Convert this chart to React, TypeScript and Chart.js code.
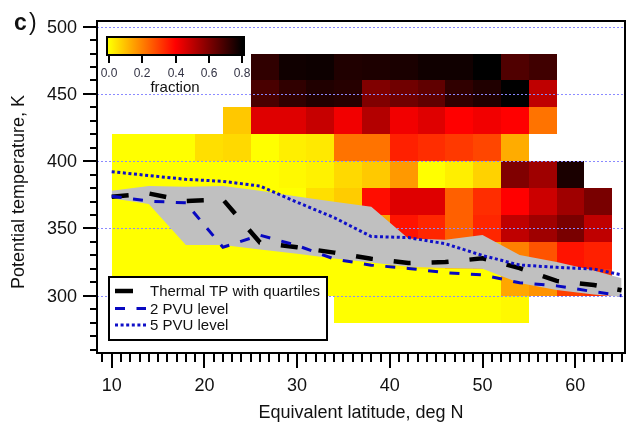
import React, { useEffect, useRef } from 'react';
import { Chart, registerables } from 'chart.js';

Chart.register(...registerables);

// ---- data ----
// heat map: columns of equivalent latitude (left edge, 3 deg wide), rows of potential temperature (bottom edge, 20 K tall)
const cellLatEdges = [10, 13, 16, 19, 22, 25, 28, 31, 34, 37, 40, 43, 46, 49, 52, 55, 58, 61];
const cellLatWidth = 3;
const cellThetaEdges = [280, 300, 320, 340, 360, 380, 400, 420, 440, 460];
const cellThetaHeight = 20;
const N = null;
const frac280 = [N, N, N, N, N, N, N, N, 0, 0, 0, 0, 0, 0, 0.01, N, N, N];
const frac300 = [0, 0, 0, 0, 0, 0, 0, 0, 0, 0, 0, 0, 0, 0, 0.14, 0.17, 0.3, 0.32];
const frac320 = [0, 0, 0, 0, 0, 0, 0, 0, 0, 0, 0.02, 0.03, 0.08, 0.12, 0.2, 0.27, 0.37, 0.35];
const frac340 = [0, 0, 0, 0, 0, 0, 0, 0, 0, 0.15, 0.37, 0.34, 0.25, 0.34, 0.5, 0.55, 0.61, 0.5];
const frac360 = [0, 0, 0, 0, 0, 0, 0, 0.05, 0.08, 0.38, 0.45, 0.45, 0.25, 0.33, 0.4, 0.48, 0.55, 0.61];
const frac380 = [0, 0, 0, 0, 0, 0, 0.01, 0.02, 0.06, 0.085, 0.16, 0, 0.025, 0.07, 0.6, 0.55, 0.76, N];
const frac400 = [0, 0, 0, 0.05, 0.06, 0, 0.025, 0.035, 0.22, 0.22, 0.35, 0.33, 0.31, 0.29, 0.13, N, N, N];
const frac420 = [N, N, N, N, 0.086, 0.45, 0.45, 0.49, 0.42, 0.52, 0.42, 0.45, 0.4, 0.42, 0.4, 0.22, N, N];
const frac440 = [N, N, N, N, N, 0.685, 0.725, 0.75, 0.74, 0.6, 0.625, 0.65, 0.725, 0.75, 0.8, 0.5, N, N];
const frac460 = [N, N, N, N, N, 0.725, 0.775, 0.78, 0.75, 0.755, 0.76, 0.775, 0.775, 0.8, 0.675, 0.7, N, N];
const fractionRows = [frac280, frac300, frac320, frac340, frac360, frac380, frac400, frac420, frac440, frac460];

// profiles vs equivalent latitude
const lat = [10, 14, 18, 22, 26, 30, 34, 38, 42, 46, 50, 54, 58, 62, 65];
const tpMedian = [373.5, 376, 370.4, 371.5, 339.5, 336, 332, 327.5, 324.3, 325, 327.8, 320.5, 311, 308, 304];
const tpUpper = [378.1, 381.6, 381, 381.6, 378, 373.8, 369.9, 366.2, 342.5, 341.5, 345.2, 330.3, 325.1, 318.7, 313];
const tpLower = [372.4, 368.2, 337.7, 337.7, 334.4, 331.1, 327.7, 324.6, 321.5, 320.6, 320, 309.4, 304.3, 300.8, 299.3];
const pvu2 = [374, 370.3, 369, 336, 345, 337.3, 327.3, 322.7, 320.3, 317.1, 315.5, 309.6, 307.3, 303, 300];
const pvu5 = [392.2, 389.3, 386.5, 385, 381.5, 369.5, 358, 344, 343.2, 338.6, 329.9, 322.8, 321.1, 319.8, 315.5];

const xMajorTicks = [10, 20, 30, 40, 50, 60];
const yMajorTicks = [300, 350, 400, 450, 500];
const colorbarTicks = [0, 0.2, 0.4, 0.6, 0.8];
const legendLabels = ['Thermal TP with quartiles', '2 PVU level', '5 PVU level'];

const FONT = "'Liberation Sans', Arial, sans-serif";

function fracColor(v: number): string {
  const t = Math.max(0, Math.min(0.8, v));
  let r: number, g: number;
  if (t <= 0.4) {
    r = 255;
    g = Math.round(255 * (1 - t / 0.4));
  } else {
    r = Math.round((255 * (0.8 - t)) / 0.4);
    g = 0;
  }
  return `rgb(${r},${g},0)`;
}

const pts = (ys: number[]) => lat.map((x, i) => ({ x, y: ys[i] }));

const heatPlugin = {
  id: 'heat',
  beforeDatasetsDraw(chart: any) {
    const { ctx, chartArea: ca, scales } = chart;
    const xs = scales.x;
    const ys = scales.y;
    ctx.save();
    ctx.beginPath();
    ctx.rect(ca.left, ca.top, ca.right - ca.left, ca.bottom - ca.top);
    ctx.clip();
    fractionRows.forEach((row, ri) => {
      const th = cellThetaEdges[ri];
      const y0 = Math.round(ys.getPixelForValue(th + cellThetaHeight));
      const y1 = Math.round(ys.getPixelForValue(th));
      row.forEach((v, ci) => {
        if (v === null) return;
        const la = cellLatEdges[ci];
        const x0 = Math.round(xs.getPixelForValue(la));
        const x1 = Math.round(xs.getPixelForValue(la + cellLatWidth));
        ctx.fillStyle = fracColor(v as number);
        ctx.fillRect(x0, y0, x1 - x0, y1 - y0);
      });
    });
    // dotted horizontal grid
    ctx.strokeStyle = '#8a8aff';
    ctx.lineWidth = 1;
    ctx.setLineDash([2, 2]);
    yMajorTicks.forEach((t) => {
      const y = Math.round(ys.getPixelForValue(t)) + 0.5;
      ctx.beginPath();
      ctx.moveTo(ca.left, y);
      ctx.lineTo(ca.right, y);
      ctx.stroke();
    });
    ctx.restore();
  },
};

const decorPlugin = {
  id: 'decor',
  afterDraw(chart: any) {
    const { ctx, chartArea: ca, scales } = chart;
    const xs = scales.x;
    const ys = scales.y;
    ctx.save();
    // frame
    ctx.strokeStyle = '#000';
    ctx.lineWidth = 2;
    ctx.setLineDash([]);
    ctx.strokeRect(ca.left, ca.top, ca.right - ca.left, ca.bottom - ca.top);

    // y ticks
    ctx.lineWidth = 2;
    for (let v = 260; v <= 500; v += 10) {
      const y = Math.round(ys.getPixelForValue(v));
      const major = v % 50 === 0;
      ctx.beginPath();
      ctx.moveTo(ca.left - (major ? 14 : 7), y);
      ctx.lineTo(ca.left, y);
      ctx.stroke();
    }
    // x ticks
    for (let v = 9; v <= 65; v += 1) {
      const x = Math.round(xs.getPixelForValue(v));
      const major = v % 10 === 0;
      ctx.beginPath();
      ctx.moveTo(x, ca.bottom);
      ctx.lineTo(x, ca.bottom + (major ? 15 : 9));
      ctx.stroke();
    }
    // tick labels
    ctx.fillStyle = '#111';
    ctx.font = `18px ${FONT}`;
    ctx.textAlign = 'right';
    ctx.textBaseline = 'middle';
    yMajorTicks.forEach((t) => {
      ctx.fillText(String(t), 77, ys.getPixelForValue(t) + 1);
    });
    ctx.textAlign = 'center';
    xMajorTicks.forEach((t) => {
      ctx.fillText(String(t), xs.getPixelForValue(t), 386);
    });
    // titles
    ctx.font = `18px ${FONT}`;
    ctx.fillText('Equivalent latitude, deg N', (ca.left + ca.right) / 2, 413);
    ctx.save();
    ctx.translate(19, 192);
    ctx.rotate(-Math.PI / 2);
    ctx.fillText('Potential temperature, K', 0, 0);
    ctx.restore();
    ctx.font = `bold 23px ${FONT}`;
    ctx.textAlign = 'left';
    ctx.textBaseline = 'alphabetic';
    ctx.fillText('c', 14, 30);
    ctx.font = `23px ${FONT}`;
    ctx.fillText(')', 29, 30);
    ctx.textBaseline = 'middle';

    // colour bar
    const cbL = 109, cbR = 242, cbT = 37, cbB = 55;
    const grad = ctx.createLinearGradient(cbL, 0, cbR, 0);
    for (let i = 0; i <= 16; i++) {
      const v = (i / 16) * 0.8;
      grad.addColorStop(i / 16, fracColor(v));
    }
    ctx.fillStyle = grad;
    ctx.fillRect(cbL - 2, cbT, cbR - cbL + 4, cbB - cbT);
    ctx.lineWidth = 2;
    ctx.strokeStyle = '#000';
    ctx.strokeRect(cbL - 2, cbT, cbR - cbL + 4, cbB - cbT);
    ctx.font = `12px ${FONT}`;
    ctx.fillStyle = '#333344';
    ctx.textAlign = 'center';
    colorbarTicks.forEach((t) => {
      const x = Math.round(cbL + ((cbR - cbL) * t) / 0.8);
      ctx.beginPath();
      ctx.moveTo(x, cbB);
      ctx.lineTo(x, cbB + 8);
      ctx.stroke();
      ctx.fillText(t.toFixed(1), x, 74);
    });
    ctx.fillStyle = '#111';
    ctx.font = `15px ${FONT}`;
    ctx.fillText('fraction', 175, 88);

    // legend
    const lx = 109, ly = 277, lw = 218, lh = 63;
    ctx.fillStyle = '#fff';
    ctx.fillRect(lx, ly, lw, lh);
    ctx.strokeStyle = '#000';
    ctx.lineWidth = 2;
    ctx.strokeRect(lx, ly, lw, lh);
    const rows = [291, 308.5, 325];
    const ds = chart.data.datasets;
    const styles = [ds[2], ds[1], ds[0]];
    styles.forEach((d: any, i: number) => {
      ctx.save();
      ctx.strokeStyle = d.borderColor;
      ctx.lineWidth = d.borderWidth;
      ctx.setLineDash(i === 0 ? [] : d.borderDash);
      ctx.beginPath();
      ctx.moveTo(115, rows[i]);
      ctx.lineTo(i === 0 ? 133 : 146, rows[i]);
      ctx.stroke();
      ctx.restore();
    });
    ctx.fillStyle = '#111';
    ctx.font = `15px ${FONT}`;
    ctx.textAlign = 'left';
    legendLabels.forEach((l, i) => ctx.fillText(l, 150, rows[i] + 1));
    ctx.restore();
  },
};

export default function App() {
  const ref = useRef<HTMLCanvasElement>(null);
  useEffect(() => {
    const chart = new Chart(ref.current as HTMLCanvasElement, {
      type: 'line',
      data: {
        datasets: [
          {
            label: '5 PVU level',
            data: pts(pvu5),
            borderColor: '#1010c8',
            borderWidth: 3,
            borderDash: [3, 2.6],
            pointRadius: 0,
            fill: false,
            tension: 0,
          },
          {
            label: '2 PVU level',
            data: pts(pvu2),
            borderColor: '#0808c0',
            borderWidth: 3,
            borderDash: [10, 11.5],
            pointRadius: 0,
            fill: false,
            tension: 0,
          },
          {
            label: 'Thermal TP with quartiles',
            data: pts(tpMedian),
            borderColor: '#000',
            borderWidth: 4.5,
            borderDash: [17, 21],
            pointRadius: 0,
            fill: false,
            tension: 0,
          },
          {
            label: 'upper quartile',
            data: pts(tpUpper),
            borderWidth: 0,
            borderColor: 'rgba(0,0,0,0)',
            backgroundColor: '#c0c0c0',
            pointRadius: 0,
            fill: '+1',
            tension: 0,
          },
          {
            label: 'lower quartile',
            data: pts(tpLower),
            borderWidth: 0,
            borderColor: 'rgba(0,0,0,0)',
            pointRadius: 0,
            fill: false,
            tension: 0,
          },
        ],
      },
      options: {
        animation: false,
        responsive: false,
        devicePixelRatio: 1,
        layout: { padding: { left: 97, top: 21, right: 2, bottom: 71 } },
        scales: {
          x: { type: 'linear', min: 8.414, max: 65.37, display: false },
          y: { type: 'linear', min: 257.4, max: 504.2, display: false },
        },
        plugins: {
          legend: { display: false },
          tooltip: { enabled: false },
        },
      },
      plugins: [heatPlugin, decorPlugin],
    } as any);
    return () => chart.destroy();
  }, []);
  return (
    <div style={{ position: 'absolute', left: 0, top: 0, width: 627, height: 424, background: '#fff' }}>
      <canvas ref={ref} width={627} height={424} style={{ display: 'block', width: 627, height: 424 }} />
    </div>
  );
}
